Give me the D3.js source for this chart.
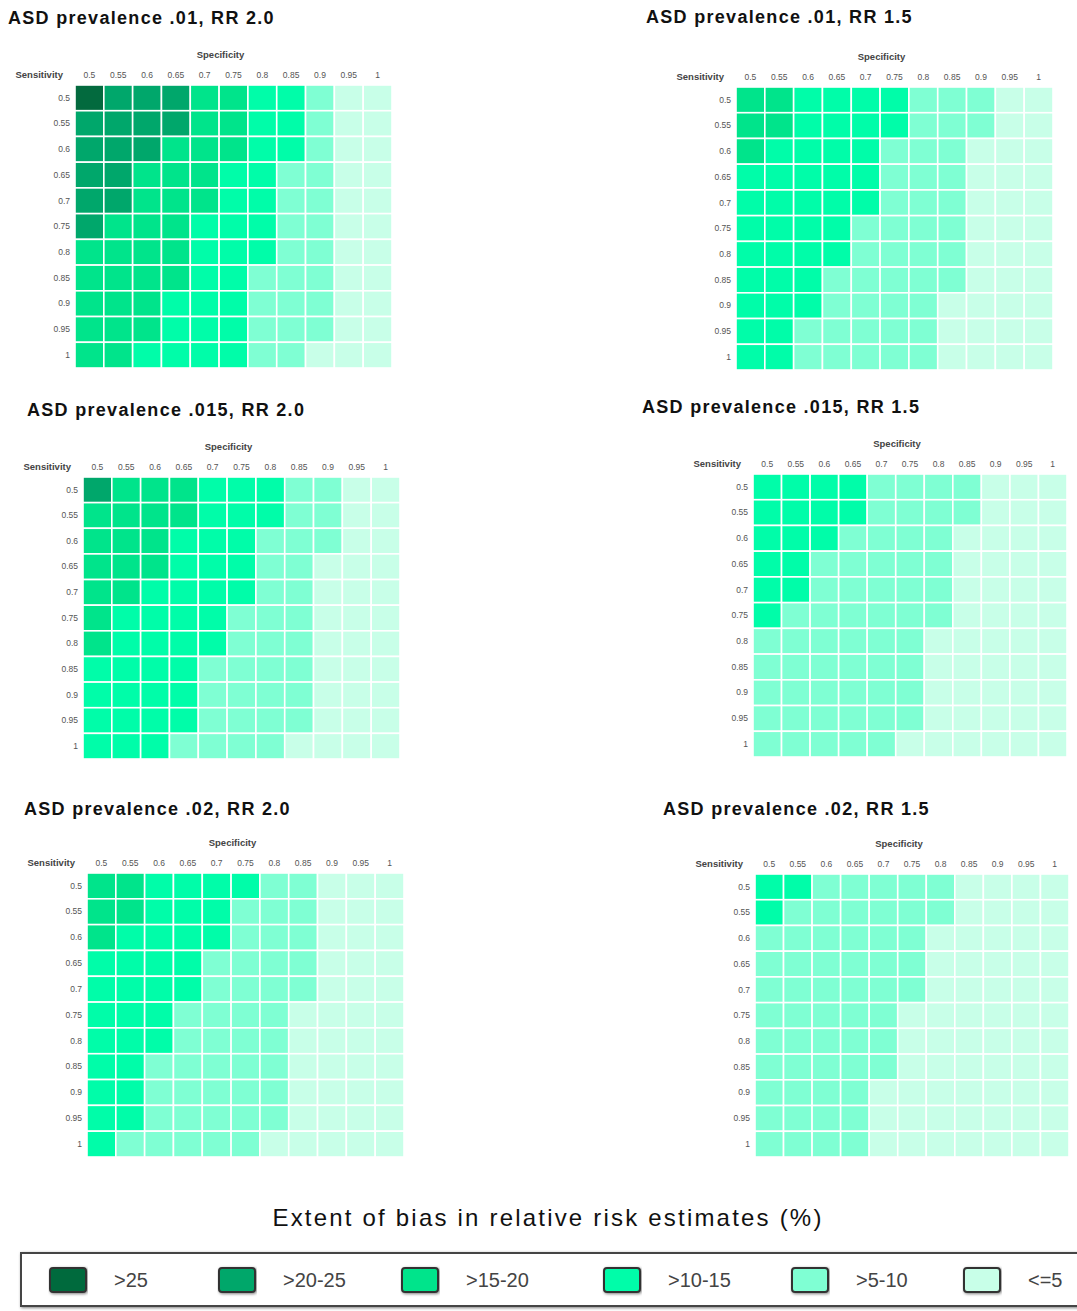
<!DOCTYPE html>
<html>
<head>
<meta charset="utf-8">
<script src="https://cdn.jsdelivr.net/npm/d3@7"></script>
<style>
  body { margin: 0; background: #fff; }
  svg { display: block; }
</style>
</head>
<body>
<div id="chart"></div>
<script>
// axis categories (same for every panel)
var specificity = ["0.5", "0.55", "0.6", "0.65", "0.7", "0.75", "0.8", "0.85", "0.9", "0.95", "1"];
var sensitivity = ["0.5", "0.55", "0.6", "0.65", "0.7", "0.75", "0.8", "0.85", "0.9", "0.95", "1"];

// bias classes, darkest first
var biasClasses = [">25", ">20-25", ">15-20", ">10-15", ">5-10", "<=5"];

var panelTitles = [
    "ASD prevalence .01, RR 2.0",
    "ASD prevalence .01, RR 1.5",
    "ASD prevalence .015, RR 2.0",
    "ASD prevalence .015, RR 1.5",
    "ASD prevalence .02, RR 2.0",
    "ASD prevalence .02, RR 1.5"
];

// class index (into biasClasses) per cell
// rows = sensitivity 0.5 .. 1, columns = specificity 0.5 .. 1
var prev01_rr20 = [
    [0, 1, 1, 1, 2, 2, 3, 3, 4, 5, 5],
    [1, 1, 1, 1, 2, 2, 3, 3, 4, 5, 5],
    [1, 1, 1, 2, 2, 2, 3, 3, 4, 5, 5],
    [1, 1, 2, 2, 2, 3, 3, 4, 4, 5, 5],
    [1, 1, 2, 2, 2, 3, 3, 4, 4, 5, 5],
    [1, 2, 2, 2, 3, 3, 3, 4, 4, 5, 5],
    [2, 2, 2, 2, 3, 3, 3, 4, 4, 5, 5],
    [2, 2, 2, 2, 3, 3, 4, 4, 4, 5, 5],
    [2, 2, 2, 3, 3, 3, 4, 4, 4, 5, 5],
    [2, 2, 2, 3, 3, 3, 4, 4, 4, 5, 5],
    [2, 2, 3, 3, 3, 3, 4, 4, 5, 5, 5]
];

var prev01_rr15 = [
    [2, 2, 3, 3, 3, 3, 4, 4, 4, 5, 5],
    [2, 2, 3, 3, 3, 3, 4, 4, 4, 5, 5],
    [2, 3, 3, 3, 3, 4, 4, 4, 5, 5, 5],
    [3, 3, 3, 3, 3, 4, 4, 4, 5, 5, 5],
    [3, 3, 3, 3, 3, 4, 4, 4, 5, 5, 5],
    [3, 3, 3, 3, 4, 4, 4, 4, 5, 5, 5],
    [3, 3, 3, 3, 4, 4, 4, 4, 5, 5, 5],
    [3, 3, 3, 4, 4, 4, 4, 4, 5, 5, 5],
    [3, 3, 3, 4, 4, 4, 4, 5, 5, 5, 5],
    [3, 3, 4, 4, 4, 4, 4, 5, 5, 5, 5],
    [3, 3, 4, 4, 4, 4, 4, 5, 5, 5, 5]
];

var prev015_rr20 = [
    [1, 2, 2, 2, 3, 3, 3, 4, 4, 5, 5],
    [2, 2, 2, 2, 3, 3, 3, 4, 4, 5, 5],
    [2, 2, 2, 3, 3, 3, 4, 4, 4, 5, 5],
    [2, 2, 2, 3, 3, 3, 4, 4, 5, 5, 5],
    [2, 2, 3, 3, 3, 3, 4, 4, 5, 5, 5],
    [2, 3, 3, 3, 3, 4, 4, 4, 5, 5, 5],
    [2, 3, 3, 3, 3, 4, 4, 4, 5, 5, 5],
    [3, 3, 3, 3, 4, 4, 4, 4, 5, 5, 5],
    [3, 3, 3, 3, 4, 4, 4, 4, 5, 5, 5],
    [3, 3, 3, 3, 4, 4, 4, 4, 5, 5, 5],
    [3, 3, 3, 4, 4, 4, 4, 5, 5, 5, 5]
];

var prev015_rr15 = [
    [3, 3, 3, 3, 4, 4, 4, 4, 5, 5, 5],
    [3, 3, 3, 3, 4, 4, 4, 4, 5, 5, 5],
    [3, 3, 3, 4, 4, 4, 4, 5, 5, 5, 5],
    [3, 3, 4, 4, 4, 4, 4, 5, 5, 5, 5],
    [3, 3, 4, 4, 4, 4, 4, 5, 5, 5, 5],
    [3, 4, 4, 4, 4, 4, 4, 5, 5, 5, 5],
    [4, 4, 4, 4, 4, 4, 5, 5, 5, 5, 5],
    [4, 4, 4, 4, 4, 4, 5, 5, 5, 5, 5],
    [4, 4, 4, 4, 4, 4, 5, 5, 5, 5, 5],
    [4, 4, 4, 4, 4, 4, 5, 5, 5, 5, 5],
    [4, 4, 4, 4, 4, 5, 5, 5, 5, 5, 5]
];

var prev02_rr20 = [
    [2, 2, 3, 3, 3, 3, 4, 4, 5, 5, 5],
    [2, 2, 3, 3, 3, 4, 4, 4, 5, 5, 5],
    [2, 3, 3, 3, 3, 4, 4, 4, 5, 5, 5],
    [3, 3, 3, 3, 4, 4, 4, 4, 5, 5, 5],
    [3, 3, 3, 3, 4, 4, 4, 4, 5, 5, 5],
    [3, 3, 3, 4, 4, 4, 4, 5, 5, 5, 5],
    [3, 3, 3, 4, 4, 4, 4, 5, 5, 5, 5],
    [3, 3, 4, 4, 4, 4, 4, 5, 5, 5, 5],
    [3, 3, 4, 4, 4, 4, 4, 5, 5, 5, 5],
    [3, 3, 4, 4, 4, 4, 4, 5, 5, 5, 5],
    [3, 4, 4, 4, 4, 4, 5, 5, 5, 5, 5]
];

var prev02_rr15 = [
    [3, 3, 4, 4, 4, 4, 4, 5, 5, 5, 5],
    [3, 4, 4, 4, 4, 4, 4, 5, 5, 5, 5],
    [4, 4, 4, 4, 4, 4, 5, 5, 5, 5, 5],
    [4, 4, 4, 4, 4, 4, 5, 5, 5, 5, 5],
    [4, 4, 4, 4, 4, 4, 5, 5, 5, 5, 5],
    [4, 4, 4, 4, 4, 5, 5, 5, 5, 5, 5],
    [4, 4, 4, 4, 4, 5, 5, 5, 5, 5, 5],
    [4, 4, 4, 4, 4, 5, 5, 5, 5, 5, 5],
    [4, 4, 4, 4, 5, 5, 5, 5, 5, 5, 5],
    [4, 4, 4, 4, 5, 5, 5, 5, 5, 5, 5],
    [4, 4, 4, 4, 5, 5, 5, 5, 5, 5, 5]
];

var panelData = [prev01_rr20, prev01_rr15, prev015_rr20, prev015_rr15, prev02_rr20, prev02_rr15];

// colours for the classes, same order as biasClasses
var classColors = ["#036a3e", "#00a76b", "#00e48b", "#00fda9", "#7fffd3", "#c8ffe8"];

// where each panel's grid sits on the page
var panels = [
    {x0: 75, x1: 392, y0: 85, y1: 368, tx: 8, ty: 24},
    {x0: 736, x1: 1053, y0: 87, y1: 370, tx: 646, ty: 23},
    {x0: 83, x1: 400, y0: 477, y1: 759, tx: 27, ty: 416},
    {x0: 753, x1: 1067, y0: 474, y1: 757, tx: 642, ty: 413},
    {x0: 87, x1: 404, y0: 873, y1: 1157, tx: 24, ty: 815},
    {x0: 755, x1: 1069, y0: 874, y1: 1157, tx: 663, ty: 815}
];

var width = 1077, height = 1311;
var font = "'Liberation Sans', Arial, sans-serif";

var svg = d3.select("#chart").append("svg")
    .attr("width", width)
    .attr("height", height)
    .style("font-family", font);

var color = d3.scaleOrdinal()
    .domain(biasClasses)
    .range(classColors);

panels.forEach(function (p, i) {
    var g = svg.append("g");

    var x = d3.scaleBand().domain(specificity).range([p.x0, p.x1]);
    var y = d3.scaleBand().domain(sensitivity).range([p.y0, p.y1]);

    // flatten the matrix into cells
    var cells = [];
    panelData[i].forEach(function (row, r) {
        row.forEach(function (c, k) {
            cells.push({sens: sensitivity[r], spec: specificity[k], cls: biasClasses[c]});
        });
    });

    g.selectAll("rect.cell")
        .data(cells)
        .enter().append("rect")
        .attr("class", "cell")
        .attr("x", function (d) { return x(d.spec); })
        .attr("y", function (d) { return y(d.sens); })
        .attr("width", x.bandwidth())
        .attr("height", y.bandwidth())
        .attr("fill", function (d) { return color(d.cls); })
        .attr("stroke", "#fff")
        .attr("stroke-width", 1.6);

    // column labels (specificity)
    var top = g.append("g")
        .attr("transform", "translate(0," + p.y0 + ")")
        .call(d3.axisTop(x).tickSize(0).tickPadding(7));
    top.select(".domain").remove();
    top.selectAll("text")
        .attr("font-size", 8.5)
        .attr("font-family", font)
        .attr("fill", "#555");

    // row labels (sensitivity)
    var left = g.append("g")
        .attr("transform", "translate(" + p.x0 + ",0)")
        .call(d3.axisLeft(y).tickSize(0).tickPadding(5));
    left.select(".domain").remove();
    left.selectAll("text")
        .attr("font-size", 8.5)
        .attr("font-family", font)
        .attr("fill", "#555");

    g.append("text")
        .attr("x", p.x0 - 12)
        .attr("y", p.y0 - 10)
        .attr("dy", "0.32em")
        .attr("text-anchor", "end")
        .attr("font-size", 9.5)
        .attr("font-weight", "bold")
        .attr("fill", "#444")
        .text("Sensitivity");

    g.append("text")
        .attr("x", (p.x0 + p.x1) / 2 - 13)
        .attr("y", p.y0 - 30)
        .attr("dy", "0.32em")
        .attr("text-anchor", "middle")
        .attr("font-size", 9.5)
        .attr("font-weight", "bold")
        .attr("fill", "#444")
        .text("Specificity");

    g.append("text")
        .attr("x", p.tx)
        .attr("y", p.ty)
        .attr("font-size", 18)
        .attr("font-weight", "bold")
        .attr("letter-spacing", 1.3)
        .attr("fill", "#111")
        .text(panelTitles[i]);
});

// legend
svg.append("text")
    .attr("x", 548)
    .attr("y", 1226)
    .attr("text-anchor", "middle")
    .attr("font-size", 24)
    .attr("letter-spacing", 2.2)
    .attr("fill", "#111")
    .text("Extent of bias in relative risk estimates (%)");

var defs = svg.append("defs");
var shadow = defs.append("filter").attr("id", "shadow")
    .attr("x", "-5%").attr("y", "-20%").attr("width", "110%").attr("height", "140%");
shadow.append("feDropShadow")
    .attr("dx", 1).attr("dy", 1).attr("stdDeviation", 1.5)
    .attr("flood-color", "#000").attr("flood-opacity", 0.5);

svg.append("rect")
    .attr("x", 21)
    .attr("y", 1253)
    .attr("width", 1100)
    .attr("height", 53)
    .attr("fill", "#fff")
    .attr("stroke", "#444")
    .attr("stroke-width", 2)
    .attr("filter", "url(#shadow)");

var legendX = [50, 219, 402, 604, 792, 964];

var items = svg.selectAll("g.legend-item")
    .data(biasClasses)
    .enter().append("g")
    .attr("class", "legend-item")
    .attr("transform", function (d, i) { return "translate(" + legendX[i] + ",1268)"; });

items.append("rect")
    .attr("width", 36)
    .attr("height", 24)
    .attr("rx", 3)
    .attr("fill", function (d) { return color(d); })
    .attr("stroke", "#333")
    .attr("stroke-width", 2)
    .attr("filter", "url(#shadow)");

items.append("text")
    .attr("x", 64)
    .attr("y", 12)
    .attr("dy", "0.35em")
    .attr("font-size", 20)
    .attr("fill", "#444")
    .text(function (d) { return d; });
</script>
</body>
</html>
